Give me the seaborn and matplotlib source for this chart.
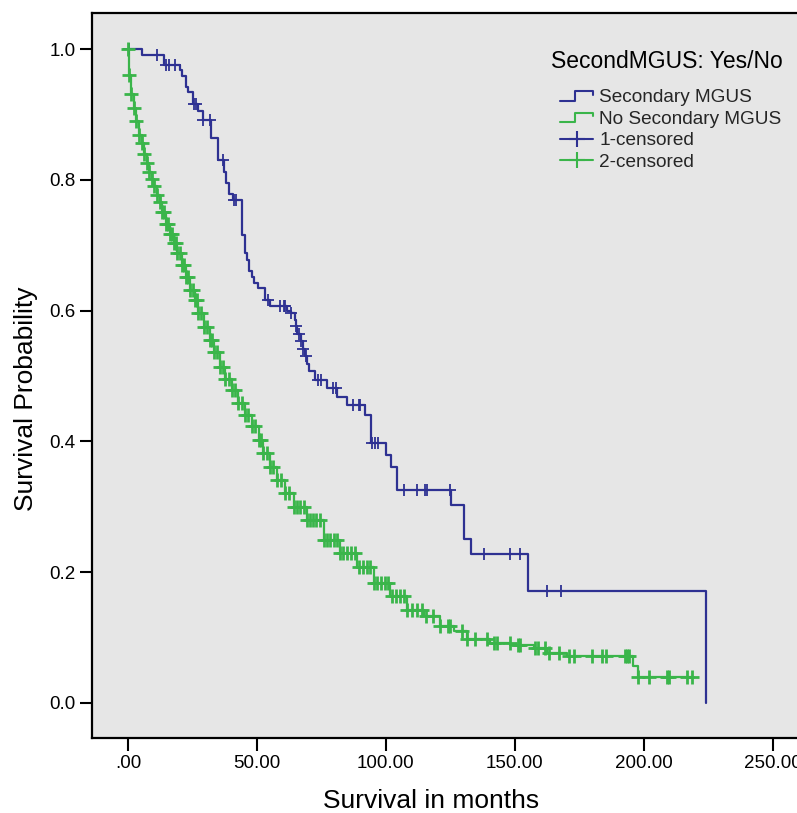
import numpy as np
import pandas as pd
import matplotlib
import matplotlib.pyplot as plt
import seaborn as sns
from matplotlib.lines import Line2D
from matplotlib.legend_handler import HandlerBase
plt.switch_backend('agg')

# Kaplan-Meier steps (months, survival)
mgus_time = [0, 5.3, 14.0, 20.2, 21.0, 22.4, 23.4, 25.0, 27.0, 29.2, 32.1, 34.7, 37.1, 38.0,
             39.2, 40.5, 44.1, 45.2, 46.1, 47.0, 48.0, 48.9, 50.2, 53.2, 54.9, 61.6, 63.2,
             64.8, 65.2, 65.7, 67.0, 68.0, 68.7, 69.4, 70.0, 72.5, 77.1, 81.0, 85.1, 92.0,
             94.2, 100.0, 102.1, 104.3, 125.3, 130.2, 133.2, 155.2, 224.0]
mgus_surv = [1.0, 0.992, 0.976, 0.969, 0.959, 0.942, 0.934, 0.916, 0.905, 0.892, 0.865, 0.831,
             0.812, 0.796, 0.778, 0.769, 0.716, 0.688, 0.678, 0.661, 0.651, 0.643, 0.634, 0.616,
             0.607, 0.600, 0.596, 0.586, 0.576, 0.565, 0.554, 0.542, 0.530, 0.518, 0.507, 0.494,
             0.481, 0.468, 0.456, 0.441, 0.397, 0.379, 0.360, 0.325, 0.302, 0.251, 0.227, 0.171,
             0.0]
mgus_censored = [0.5, 11.1, 14.8, 15.8, 18.2, 25.4, 26.5, 29.2, 31.8, 36.8, 41.1, 41.9, 54.1,
                 59.0, 60.3, 60.9, 63.3, 65.2, 66.1, 67.0, 68.0, 69.1, 73.6, 74.9, 79.5, 80.7,
                 87.2, 89.4, 90.1, 94.6, 95.9, 96.8, 107.1, 112.1, 115.3, 115.9, 125.0, 138.2,
                 148.0, 152.2, 162.3, 168.1]

no_mgus_time = [0, 0.3, 1.2, 2.1, 3.1, 4.3, 5.3, 6.2, 7.2, 8.3, 9.4, 10.2, 11.1, 12.2, 13.1,
                14.8, 16.3, 17.9, 19.1, 20.8, 22.5, 24.1, 25.8, 27.3, 29.6, 31.6, 33.4, 35.7,
                37.7, 40.2, 42.8, 45.4, 48.0, 50.6, 52.5, 55.1, 57.7, 60.9, 64.2, 69.4, 75.8,
                82.3, 88.8, 95.2, 101.7, 108.2, 114.6, 121.1, 126.3, 131.5, 140.5, 148.3, 157.3,
                162.5, 170.3, 195.9, 197.6]
no_mgus_surv = [1.0, 0.960, 0.932, 0.910, 0.890, 0.869, 0.857, 0.839, 0.826, 0.812, 0.802,
                0.791, 0.777, 0.767, 0.751, 0.733, 0.718, 0.703, 0.688, 0.670, 0.652, 0.632,
                0.616, 0.596, 0.575, 0.555, 0.537, 0.514, 0.496, 0.479, 0.458, 0.440, 0.423,
                0.402, 0.382, 0.361, 0.341, 0.321, 0.300, 0.280, 0.249, 0.229, 0.208, 0.183,
                0.163, 0.142, 0.132, 0.117, 0.109, 0.097, 0.092, 0.089, 0.084, 0.076, 0.071,
                0.056, 0.040]
no_mgus_censored = [0, 0.5, 1.2, 2.1, 3.1, 4.3, 5.3, 6.2, 7.2, 8.3, 9.4, 10.2, 11.1, 12.2, 13.1,
                    14.0, 14.8, 15.6, 16.3, 17.1, 17.9, 18.5, 19.1, 20.0, 20.8, 21.6, 22.5,
                    23.3, 24.1, 25.0, 25.8, 26.6, 27.3, 28.4, 29.6, 30.6, 31.6, 32.5, 33.4,
                    34.5, 35.7, 36.7, 37.7, 39.0, 40.2, 41.5, 42.8, 44.1, 45.4, 46.7, 48.0,
                    49.3, 50.6, 51.5, 52.5, 53.8, 55.1, 56.4, 57.7, 59.3, 60.9, 62.5, 64.2,
                    65.5, 66.8, 68.1, 69.4, 70.5, 71.8, 73.0, 74.4, 75.8, 77.0, 78.5, 80.0,
                    81.2, 82.3, 83.5, 85.0, 86.5, 88.0, 89.5, 91.0, 92.5, 94.0, 95.2, 96.5,
                    98.0, 99.5, 101.0, 102.5, 104.0, 105.5, 107.0, 108.2, 110.0, 112.0, 114.0,
                    115.5, 118.4, 121.1, 124.2, 125.0, 129.5, 131.5, 134.7, 139.2, 141.8,
                    143.1, 148.0, 151.4, 152.2, 158.0, 158.9, 161.9, 163.2, 167.0, 170.9,
                    172.9, 180.0, 183.9, 185.2, 192.9, 193.6, 194.2, 197.7, 202.0, 209.1,
                    209.7, 216.9, 218.8]

xtick_vals = [0, 50, 100, 150, 200, 250]
xtick_labels = ['.00', '50.00', '100.00', '150.00', '200.00', '250.00']
ytick_vals = [0.0, 0.2, 0.4, 0.6, 0.8, 1.0]
ytick_labels = ['0.0', '0.2', '0.4', '0.6', '0.8', '1.0']
legend_labels = ['Secondary MGUS', 'No Secondary MGUS', '1-censored', '2-censored']

BLUE = '#2e3192'
GREEN = '#3ab54a'


def km_frame(times, surv, end):
    t = list(times) + [end]
    s = list(surv) + [surv[-1]]
    return pd.DataFrame({'time': t, 'surv': s})


def surv_at(times, surv, pts):
    idx = np.searchsorted(np.asarray(times), np.asarray(pts), side='right') - 1
    return np.asarray(surv)[idx]


class StepHandler(HandlerBase):
    def create_artists(self, legend, orig_handle, xdescent, ydescent, width, height, fontsize, trans):
        x = np.array([0, 0.45, 0.45, 1.0, 1.0]) * width - xdescent
        y = np.array([0.1, 0.1, 0.85, 0.85, 0.55]) * height - ydescent
        ln = Line2D(x, y, color=orig_handle.get_color(), lw=orig_handle.get_linewidth())
        ln.set_transform(trans)
        return [ln]


sns.set_style("ticks")
plt.rcParams['font.family'] = ['Liberation Sans', 'DejaVu Sans']

fig = plt.figure(figsize=(7.97, 8.13), dpi=100)
ax = fig.add_axes([92.3 / 797, 1 - 738.3 / 813, (812 - 92.3) / 797, (738.3 - 13.3) / 813])
ax.set_facecolor('#e6e6e6')

curves = [
    (mgus_time, mgus_surv, mgus_censored, max(mgus_time), BLUE, 8, 1.3),
    (no_mgus_time, no_mgus_surv, no_mgus_censored, max(no_mgus_censored), GREEN, 10, 2.0),
]
for times, surv, cens, end, col, ms, mew in curves:
    d = km_frame(times, surv, end)
    sns.lineplot(data=d, x='time', y='surv', ax=ax, color=col, lw=1.6,
                 drawstyle='steps-post', estimator=None, sort=False)
    c = pd.DataFrame({'time': cens, 'surv': surv_at(times, surv, cens)})
    sns.scatterplot(data=c, x='time', y='surv', ax=ax, color=col, marker='+',
                    s=ms ** 2, linewidth=mew, zorder=3)

ax.set_xlim((92.3 - 128.1) / 2.578, (812 - 128.1) / 2.578)
ax.set_ylim(-(738.3 - 702.7) / 653.4, (702.7 - 13.3) / 653.4)
ax.set_xticks(xtick_vals)
ax.set_xticklabels(xtick_labels)
ax.set_yticks(ytick_vals)
ax.set_yticklabels(ytick_labels)
ax.tick_params(axis='both', direction='out', length=9, width=1.5, color='black',
               labelsize=13.5, labelcolor='black', pad=3)
for sp in ax.spines.values():
    sp.set_linewidth(1.6)
    sp.set_color('black')
    sp.set_visible(True)

ax.set_xlabel('Survival in months', fontsize=19, color='black')
ax.set_ylabel('Survival Probability', fontsize=19, color='black')
# SPSS puts the titles a little off the axes centre
ax.xaxis.set_label_coords((431 - 92.3) / 719.7, -(789 - 738.3) / 725)
ax.yaxis.set_label_coords(-(92.3 - 38) / 719.7, (738.3 - 399) / 725)

h1 = Line2D([], [], color=BLUE, lw=1.5)
h2 = Line2D([], [], color=GREEN, lw=1.5)
h3 = Line2D([], [], color=BLUE, lw=1.5, marker='+', markersize=11, markeredgewidth=1.5)
h4 = Line2D([], [], color=GREEN, lw=1.5, marker='+', markersize=11, markeredgewidth=1.5)
leg = ax.legend([h1, h2, h3, h4], legend_labels, fontsize=13.7,
                loc='upper left', bbox_to_anchor=(560 / 797, 1 - 89 / 813),
                bbox_transform=fig.transFigure, frameon=False, borderpad=0, borderaxespad=0,
                handlelength=1.75, handletextpad=0.3, labelspacing=0.22, numpoints=1,
                handler_map={h1: StepHandler(), h2: StepHandler()})
fig.text(551 / 797, 1 - 62 / 813, 'SecondMGUS: Yes/No', fontsize=16.5, va='center', ha='left',
         color='black')

plt.savefig('out.png', dpi=100)
